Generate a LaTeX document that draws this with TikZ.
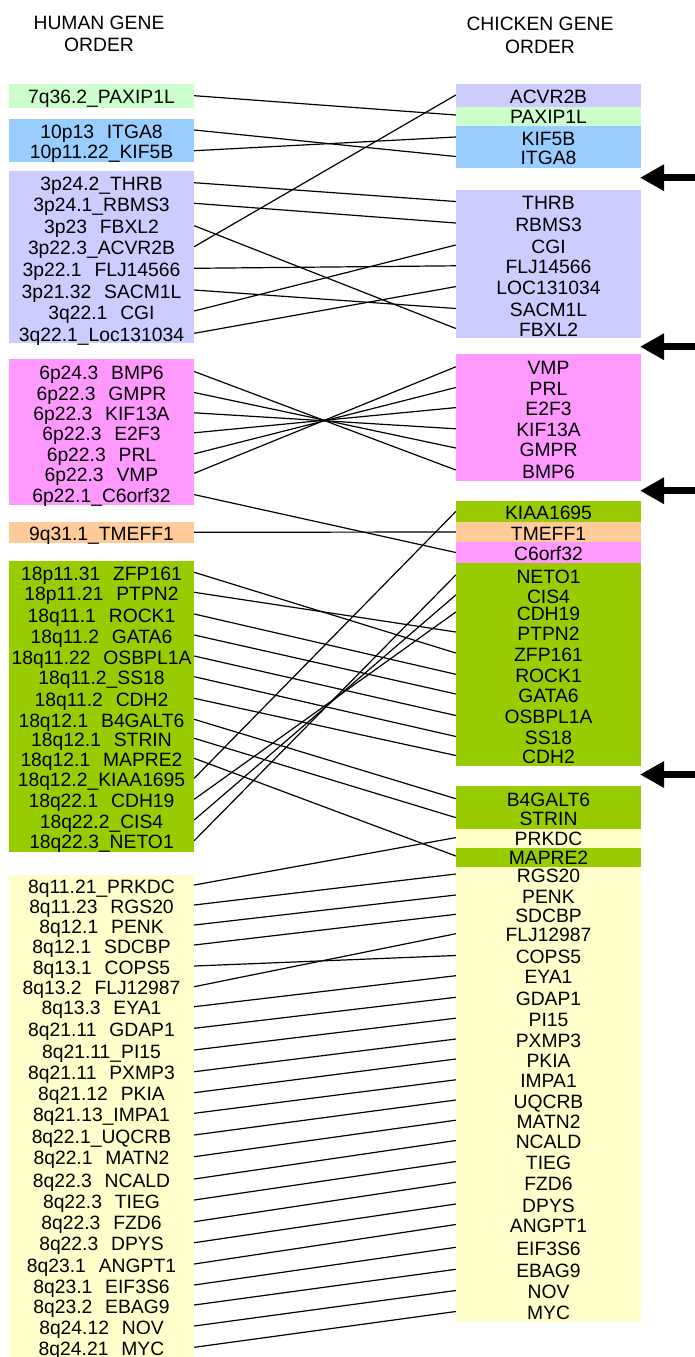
\documentclass[tikz,border=0pt]{standalone}
\usepackage{fontspec}
\setmainfont{Liberation Sans}
\usepackage{tikz}
\usetikzlibrary{positioning}
\usetikzlibrary{arrows.meta}
\definecolor{chrSeven}{HTML}{CCFFCC}
\definecolor{chrTen}{HTML}{99CCFF}
\definecolor{chrThree}{HTML}{CCCCFF}
\definecolor{chrSix}{HTML}{FF99FF}
\definecolor{chrNine}{HTML}{FFCC99}
\definecolor{chrEighteen}{HTML}{99CC00}
\definecolor{chrEight}{HTML}{FFFFCC}
\tikzstyle{link} = [line width=1.2pt, black]
\tikzstyle{bigarrow} = [line width=7pt, -{Triangle[length=24pt,width=25pt]}]

\begin{document}
\begin{tikzpicture}[
    x = 1pt, y = -1pt,
    every node/.style = {inner sep = 0pt, font = \fontsize{19.3}{21}\selectfont, text height = 16pt, text depth = 0pt},
    human/.style = {text width = 185pt, align = center},   % left column
    chicken/.style = {text width = 185pt, align = center}  % right column
  ]
  \useasboundingbox (0,0) rectangle (695,1357);

  % Headers
  \node (hhead1) at (99,21.5) {HUMAN GENE};
  \node (hhead2) at (99,43.2) {ORDER};
  \node (chead1) at (540,22) {CHICKEN GENE};
  \node (chead2) at (540,45) {ORDER};

  % Boxes, human side
  \fill[chrSeven] (9,84) rectangle (194,108.3);
  \fill[chrTen] (9,119) rectangle (194,161.7);
  \fill[chrThree] (9,171) rectangle (194,343.3);
  \fill[chrSix] (9,359) rectangle (194,505);
  \fill[chrNine] (9,522) rectangle (194,543.3);
  \fill[chrEighteen] (9,561) rectangle (194,851.7);
  \fill[chrEight] (9,875) rectangle (194,1357);

  % Boxes, chicken side
  \fill[chrThree] (456,84) rectangle (641,106.5);
  \fill[chrSeven] (456,106.5) rectangle (641,125.5);
  \fill[chrTen] (456,126) rectangle (641,167.7);
  \fill[chrThree] (456,190) rectangle (641,338.3);
  \fill[chrSix] (456,354) rectangle (641,480.5);
  \fill[chrEighteen] (456,500.7) rectangle (641,522);
  \fill[chrNine] (456,522) rectangle (641,541.7);
  \fill[chrSix] (456,541.7) rectangle (641,563);
  \fill[chrEighteen] (456,563) rectangle (641,765.7);
  \fill[chrEighteen] (456,786) rectangle (641,829);
  \fill[chrEight] (456,829) rectangle (641,848.3);
  \fill[chrEighteen] (456,848.3) rectangle (641,866.7);
  \fill[chrEight] (456,866.7) rectangle (641,1321.7);

  % Human gene order
  \node[human] (hPAXIP1L) at (101.5,95.7) {7q36.2\_PAXIP1L};
  \node[human] (hITGA8) at (101.5,130) {10p13~~ITGA8};
  \node[human] (hKIF5B) at (101.5,150.7) {10p11.22\_KIF5B};
  \node[human] (hTHRB) at (101.5,182.7) {3p24.2\_THRB};
  \node[human] (hRBMS3) at (101.5,203.3) {3p24.1\_RBMS3};
  \node[human] (hFBXL2) at (101.5,225.7) {3p23~~FBXL2};
  \node[human] (hACVR2B) at (101.5,246.7) {3p22.3\_ACVR2B};
  \node[human] (hFLJ14566) at (101.5,268.3) {3p22.1~~FLJ14566};
  \node[human] (hSACM1L) at (101.5,290) {3p21.32~~SACM1L};
  \node[human] (hCGI) at (101.5,311) {3q22.1~~CGI};
  \node[human] (hLOC131034) at (101.5,333.3) {3q22.1\_Loc131034};
  \node[human] (hBMP6) at (101.5,371.5) {6p24.3~~BMP6};
  \node[human] (hGMPR) at (101.5,392.5) {6p22.3~~GMPR};
  \node[human] (hKIF13A) at (101.5,412.8) {6p22.3~~KIF13A};
  \node[human] (hE2F3) at (101.5,432.8) {6p22.3~~E2F3};
  \node[human] (hPRL) at (101.5,453.8) {6p22.3~~PRL};
  \node[human] (hVMP) at (101.5,473.3) {6p22.3~~VMP};
  \node[human] (hC6orf32) at (101.5,494.6) {6p22.1\_C6orf32};
  \node[human] (hTMEFF1) at (101.5,532.3) {9q31.1\_TMEFF1};
  \node[human] (hZFP161) at (101.5,572.3) {18p11.31~~ZFP161};
  \node[human] (hPTPN2) at (101.5,592.3) {18p11.21~~PTPN2};
  \node[human] (hROCK1) at (101.5,614) {18q11.1~~ROCK1};
  \node[human] (hGATA6) at (101.5,635) {18q11.2~~GATA6};
  \node[human] (hOSBPL1A) at (101.5,656) {18q11.22~~OSBPL1A};
  \node[human] (hSS18) at (101.5,676.7) {18q11.2\_SS18};
  \node[human] (hCDH2) at (101.5,698.3) {18q11.2~~CDH2};
  \node[human] (hB4GALT6) at (101.5,719.3) {18q12.1~~B4GALT6};
  \node[human] (hSTRIN) at (101.5,738.3) {18q12.1~~STRIN};
  \node[human] (hMAPRE2) at (101.5,758.3) {18q12.1~~MAPRE2};
  \node[human] (hKIAA1695) at (101.5,778.3) {18q12.2\_KIAA1695};
  \node[human] (hCDH19) at (101.5,799.3) {18q22.1~~CDH19};
  \node[human] (hCIS4) at (101.5,820) {18q22.2\_CIS4};
  \node[human] (hNETO1) at (101.5,840.7) {18q22.3\_NETO1};
  \node[human] (hPRKDC) at (101.5,885) {8q11.21\_PRKDC};
  \node[human] (hRGS20) at (101.5,905) {8q11.23~~RGS20};
  \node[human] (hPENK) at (101.5,925) {8q12.1~~PENK};
  \node[human] (hSDCBP) at (101.5,945) {8q12.1~~SDCBP};
  \node[human] (hCOPS5) at (101.5,966) {8q13.1~~COPS5};
  \node[human] (hFLJ12987) at (101.5,986.7) {8q13.2~~FLJ12987};
  \node[human] (hEYA1) at (101.5,1006.7) {8q13.3~~EYA1};
  \node[human] (hGDAP1) at (101.5,1028.3) {8q21.11~~GDAP1};
  \node[human] (hPI15) at (101.5,1050) {8q21.11\_PI15};
  \node[human] (hPXMP3) at (101.5,1071.7) {8q21.11~~PXMP3};
  \node[human] (hPKIA) at (101.5,1092.7) {8q21.12~~PKIA};
  \node[human] (hIMPA1) at (101.5,1113.3) {8q21.13\_IMPA1};
  \node[human] (hUQCRB) at (101.5,1135) {8q22.1\_UQCRB};
  \node[human] (hMATN2) at (101.5,1156.7) {8q22.1~~MATN2};
  \node[human] (hNCALD) at (101.5,1179) {8q22.3~~NCALD};
  \node[human] (hTIEG) at (101.5,1200) {8q22.3~~TIEG};
  \node[human] (hFZD6) at (101.5,1221.7) {8q22.3~~FZD6};
  \node[human] (hDPYS) at (101.5,1242.7) {8q22.3~~DPYS};
  \node[human] (hANGPT1) at (101.5,1264) {8q23.1~~ANGPT1};
  \node[human] (hEIF3S6) at (101.5,1285) {8q23.1~~EIF3S6};
  \node[human] (hEBAG9) at (101.5,1305) {8q23.2~~EBAG9};
  \node[human] (hNOV) at (101.5,1326) {8q24.12~~NOV};
  \node[human] (hMYC) at (101.5,1347.3) {8q24.21~~MYC};

  % Chicken gene order
  \node[chicken] (cACVR2B) at (548.5,95) {ACVR2B};
  \node[chicken] (cPAXIP1L) at (548.5,115) {PAXIP1L};
  \node[chicken] (cKIF5B) at (548.5,137) {KIF5B};
  \node[chicken] (cITGA8) at (548.5,156.5) {ITGA8};
  \node[chicken] (cTHRB) at (548.5,201.5) {THRB};
  \node[chicken] (cRBMS3) at (548.5,223) {RBMS3};
  \node[chicken] (cCGI) at (548.5,245) {CGI};
  \node[chicken] (cFLJ14566) at (548.5,265.8) {FLJ14566};
  \node[chicken] (cLOC131034) at (548.5,286.6) {LOC131034};
  \node[chicken] (cSACM1L) at (548.5,308.5) {SACM1L};
  \node[chicken] (cFBXL2) at (548.5,328.5) {FBXL2};
  \node[chicken] (cVMP) at (548.5,366.8) {VMP};
  \node[chicken] (cPRL) at (548.5,387.5) {PRL};
  \node[chicken] (cE2F3) at (548.5,407.6) {E2F3};
  \node[chicken] (cKIF13A) at (548.5,428.8) {KIF13A};
  \node[chicken] (cGMPR) at (548.5,448) {GMPR};
  \node[chicken] (cBMP6) at (548.5,470) {BMP6};
  \node[chicken] (cKIAA1695) at (548.5,511.5) {KIAA1695};
  \node[chicken] (cTMEFF1) at (548.5,532) {TMEFF1};
  \node[chicken] (cC6orf32) at (548.5,552.5) {C6orf32};
  \node[chicken] (cNETO1) at (548.5,575) {NETO1};
  \node[chicken] (cCIS4) at (548.5,595) {CIS4};
  \node[chicken] (cCDH19) at (548.5,612) {CDH19};
  \node[chicken] (cPTPN2) at (548.5,632) {PTPN2};
  \node[chicken] (cZFP161) at (548.5,653) {ZFP161};
  \node[chicken] (cROCK1) at (548.5,674.3) {ROCK1};
  \node[chicken] (cGATA6) at (548.5,694) {GATA6};
  \node[chicken] (cOSBPL1A) at (548.5,715.5) {OSBPL1A};
  \node[chicken] (cSS18) at (548.5,736.5) {SS18};
  \node[chicken] (cCDH2) at (548.5,755.5) {CDH2};
  \node[chicken] (cB4GALT6) at (548.5,798.7) {B4GALT6};
  \node[chicken] (cSTRIN) at (548.5,817.6) {STRIN};
  \node[chicken] (cPRKDC) at (548.5,837.6) {PRKDC};
  \node[chicken] (cMAPRE2) at (548.5,856) {MAPRE2};
  \node[chicken] (cRGS20) at (548.5,874) {RGS20};
  \node[chicken] (cPENK) at (548.5,895) {PENK};
  \node[chicken] (cSDCBP) at (548.5,914.3) {SDCBP};
  \node[chicken] (cFLJ12987) at (548.5,933.7) {FLJ12987};
  \node[chicken] (cCOPS5) at (548.5,955.5) {COPS5};
  \node[chicken] (cEYA1) at (548.5,975.7) {EYA1};
  \node[chicken] (cGDAP1) at (548.5,997.3) {GDAP1};
  \node[chicken] (cPI15) at (548.5,1018.2) {PI15};
  \node[chicken] (cPXMP3) at (548.5,1039) {PXMP3};
  \node[chicken] (cPKIA) at (548.5,1059) {PKIA};
  \node[chicken] (cIMPA1) at (548.5,1079.8) {IMPA1};
  \node[chicken] (cUQCRB) at (548.5,1100) {UQCRB};
  \node[chicken] (cMATN2) at (548.5,1120.2) {MATN2};
  \node[chicken] (cNCALD) at (548.5,1140.5) {NCALD};
  \node[chicken] (cTIEG) at (548.5,1161.5) {TIEG};
  \node[chicken] (cFZD6) at (548.5,1182.2) {FZD6};
  \node[chicken] (cDPYS) at (548.5,1204) {DPYS};
  \node[chicken] (cANGPT1) at (548.5,1224.5) {ANGPT1};
  \node[chicken] (cEIF3S6) at (548.5,1247.3) {EIF3S6};
  \node[chicken] (cEBAG9) at (548.5,1269.3) {EBAG9};
  \node[chicken] (cNOV) at (548.5,1290.5) {NOV};
  \node[chicken] (cMYC) at (548.5,1311.5) {MYC};

  % Links
  \draw[link] (hPAXIP1L.east) -- (cPAXIP1L.west);
  \draw[link] (hITGA8.east) -- (cITGA8.west);
  \draw[link] (hKIF5B.east) -- (cKIF5B.west);
  \draw[link] (hTHRB.east) -- (cTHRB.west);
  \draw[link] (hRBMS3.east) -- (cRBMS3.west);
  \draw[link] (hFBXL2.east) -- (cFBXL2.west);
  \draw[link] (hACVR2B.east) -- (cACVR2B.west);
  \draw[link] (hFLJ14566.east) -- (cFLJ14566.west);
  \draw[link] (hSACM1L.east) -- (cSACM1L.west);
  \draw[link] (hCGI.east) -- (cCGI.west);
  \draw[link] (hLOC131034.east) -- (cLOC131034.west);
  \draw[link] (hBMP6.east) -- (cBMP6.west);
  \draw[link] (hGMPR.east) -- (cGMPR.west);
  \draw[link] (hKIF13A.east) -- (cKIF13A.west);
  \draw[link] (hE2F3.east) -- (cE2F3.west);
  \draw[link] (hPRL.east) -- (cPRL.west);
  \draw[link] (hVMP.east) -- (cVMP.west);
  \draw[link] (hC6orf32.east) -- (cC6orf32.west);
  \draw[link] (hTMEFF1.east) -- (cTMEFF1.west);
  \draw[link] (hZFP161.east) -- (cZFP161.west);
  \draw[link] (hPTPN2.east) -- (cPTPN2.west);
  \draw[link] (hROCK1.east) -- (cROCK1.west);
  \draw[link] (hGATA6.east) -- (cGATA6.west);
  \draw[link] (hOSBPL1A.east) -- (cOSBPL1A.west);
  \draw[link] (hSS18.east) -- (cSS18.west);
  \draw[link] (hCDH2.east) -- (cCDH2.west);
  \draw[link] (hB4GALT6.east) -- (cB4GALT6.west);
  \draw[link] (hSTRIN.east) -- (cSTRIN.west);
  \draw[link] (hMAPRE2.east) -- (cMAPRE2.west);
  \draw[link] (hKIAA1695.east) -- (cKIAA1695.west);
  \draw[link] (hCDH19.east) -- (cCDH19.west);
  \draw[link] (hCIS4.east) -- (cCIS4.west);
  \draw[link] (hNETO1.east) -- (cNETO1.west);
  \draw[link] (hPRKDC.east) -- (cPRKDC.west);
  \draw[link] (hRGS20.east) -- (cRGS20.west);
  \draw[link] (hPENK.east) -- (cPENK.west);
  \draw[link] (hSDCBP.east) -- (cSDCBP.west);
  \draw[link] (hCOPS5.east) -- (cCOPS5.west);
  \draw[link] (hFLJ12987.east) -- (cFLJ12987.west);
  \draw[link] (hEYA1.east) -- (cEYA1.west);
  \draw[link] (hGDAP1.east) -- (cGDAP1.west);
  \draw[link] (hPI15.east) -- (cPI15.west);
  \draw[link] (hPXMP3.east) -- (cPXMP3.west);
  \draw[link] (hPKIA.east) -- (cPKIA.west);
  \draw[link] (hIMPA1.east) -- (cIMPA1.west);
  \draw[link] (hUQCRB.east) -- (cUQCRB.west);
  \draw[link] (hMATN2.east) -- (cMATN2.west);
  \draw[link] (hNCALD.east) -- (cNCALD.west);
  \draw[link] (hTIEG.east) -- (cTIEG.west);
  \draw[link] (hFZD6.east) -- (cFZD6.west);
  \draw[link] (hDPYS.east) -- (cDPYS.west);
  \draw[link] (hANGPT1.east) -- (cANGPT1.west);
  \draw[link] (hEIF3S6.east) -- (cEIF3S6.west);
  \draw[link] (hEBAG9.east) -- (cEBAG9.west);
  \draw[link] (hNOV.east) -- (cNOV.west);
  \draw[link] (hMYC.east) -- (cMYC.west);

  % Breakpoint arrows
  \coordinate (gapA) at (640,177.7);
  \coordinate (gapB) at (640,346.7);
  \coordinate (gapC) at (640,490.7);
  \coordinate (gapD) at (640,774.5);
  \draw[bigarrow] ([xshift=70pt]gapA) -- (gapA);
  \draw[bigarrow] ([xshift=70pt]gapB) -- (gapB);
  \draw[bigarrow] ([xshift=70pt]gapC) -- (gapC);
  \draw[bigarrow] ([xshift=70pt]gapD) -- (gapD);
\end{tikzpicture}
\end{document}
